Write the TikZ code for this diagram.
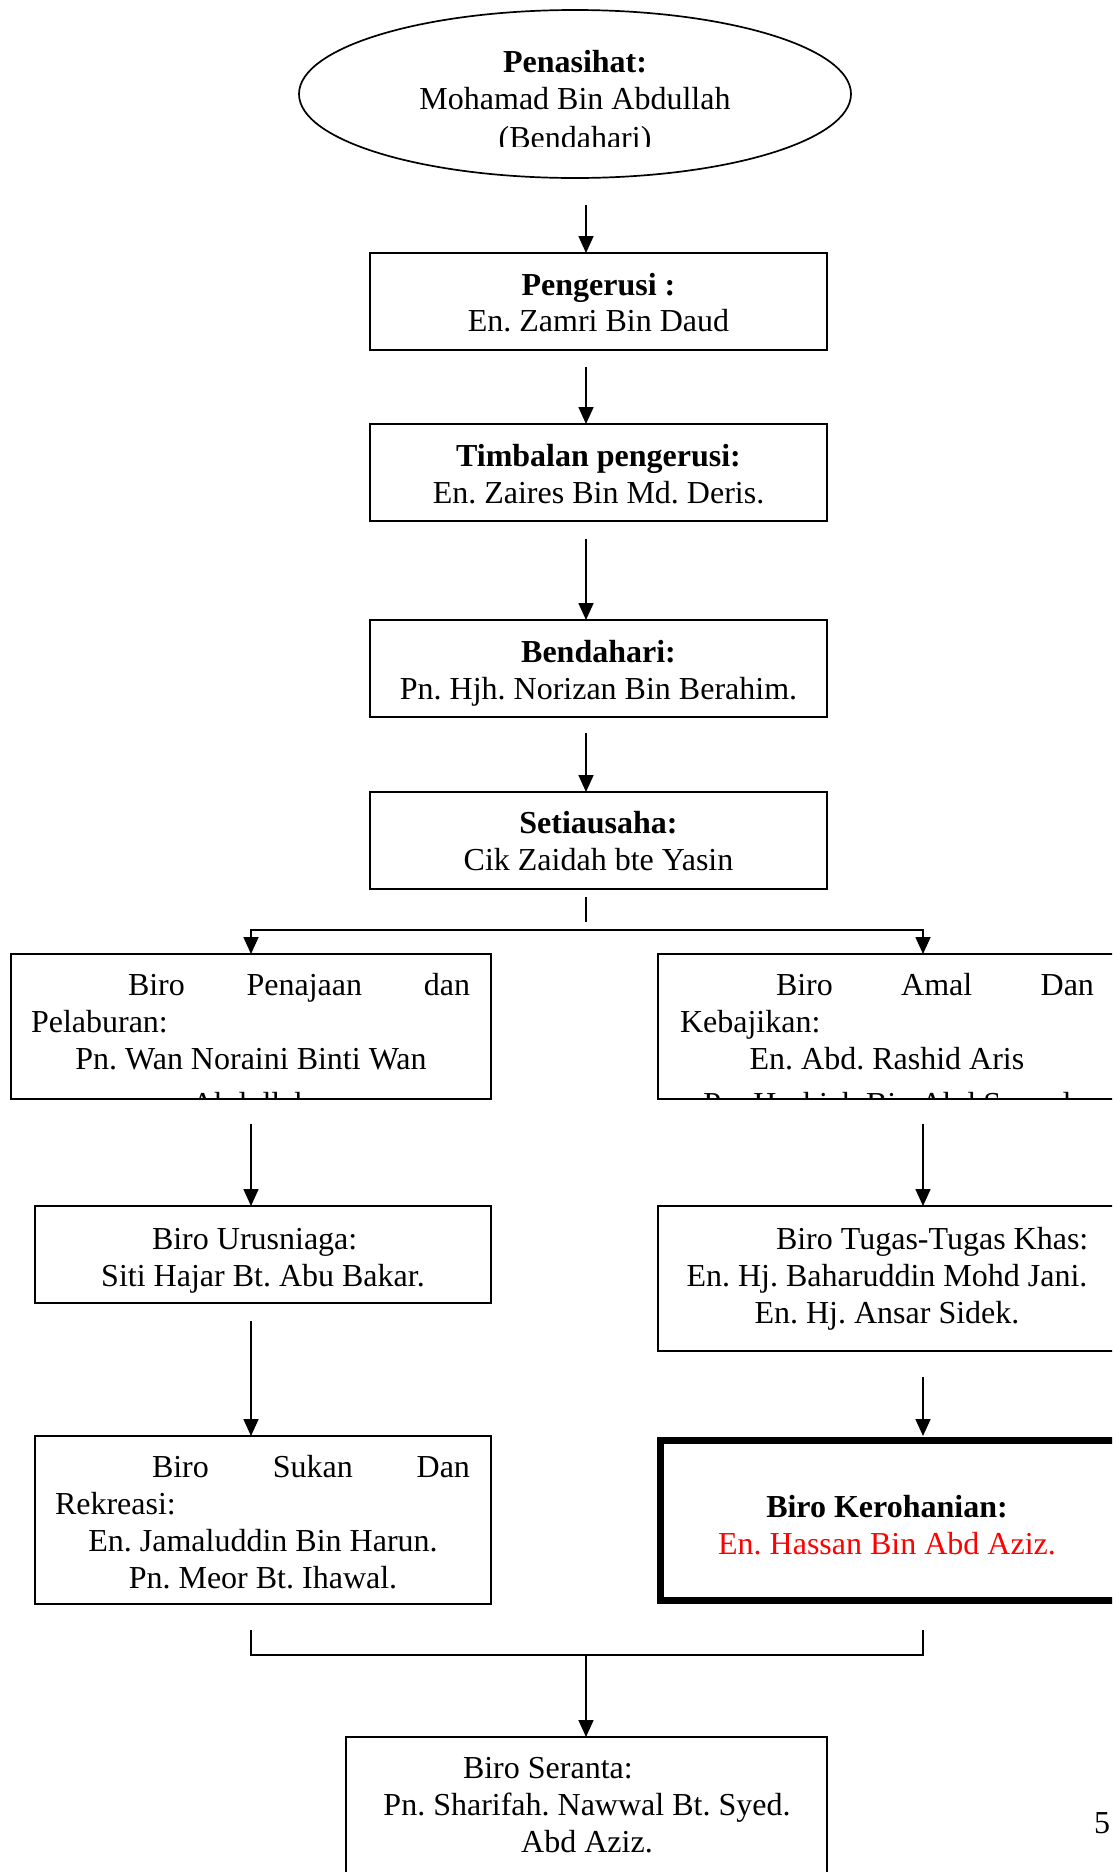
\documentclass[tikz,border=0pt]{standalone}
\usepackage{fontspec}
\setmainfont{Liberation Serif}
\usetikzlibrary{arrows.meta,shapes.geometric}
\frenchspacing
\begin{document}
\begin{tikzpicture}[x=1pt,y=-1pt,
  box/.style={draw,line width=1.7pt,rectangle,inner sep=0pt,outer sep=0pt},
  thickbox/.style={draw,line width=7pt,rectangle,inner sep=0pt,outer sep=0pt},
  txt/.style={inner sep=0pt,outer sep=0pt,anchor=base,font=\fontsize{32}{37}\selectfont\frenchspacing},
  txtl/.style={txt,anchor=base west},
  bt/.style={txt,font=\fontsize{32}{37}\selectfont\bfseries\frenchspacing},
  arr/.style={line width=1.7pt,-{Triangle[width=15pt,length=17pt]}},
  ln/.style={line width=1.7pt}]
\useasboundingbox (0,0) rectangle (1112,1872);
\clip (0,0) rectangle (1112,1872);

% ---------- shapes ----------
\node[draw,ellipse,line width=1.7pt,inner sep=0pt,outer sep=0pt,
      minimum width=552pt,minimum height=168pt] (ell) at (575,94) {};
\node[box,minimum width=457pt,minimum height=97pt] (peng) at (598.5,301.5) {};
\node[box,minimum width=457pt,minimum height=97pt] (timb) at (598.5,472.5) {};
\node[box,minimum width=457pt,minimum height=97pt] (bend) at (598.5,668.5) {};
\node[box,minimum width=457pt,minimum height=97pt] (seti) at (598.5,840.5) {};
\node[box,minimum width=480pt,minimum height=145pt] (penaj) at (251,1026.5) {};
\node[box,minimum width=462pt,minimum height=145pt] (amal) at (889,1026.5) {};
\node[box,minimum width=456pt,minimum height=97pt] (urus) at (263,1254.5) {};
\node[box,minimum width=462pt,minimum height=145pt] (tugas) at (889,1278.5) {};
\node[box,minimum width=456pt,minimum height=168pt] (sukan) at (263,1520) {};
\node[thickbox,minimum width=460pt,minimum height=160pt] (keroh) at (890,1520) {};
\node[box,minimum width=481pt,minimum height=153pt] (seranta) at (586.5,1813.5) {};

% ---------- texts ----------
\begin{scope}
\clip (300,10) rectangle (852,146);
\node[bt] (e1) at (575,72) {Penasihat:};
\node[txt] (e2) at (575,109) {Mohamad Bin Abdullah};
\node[txt] (e3) at (575,148) {(Bendahari)};
\end{scope}

\node[bt] (p1) at (598.5,295) {Pengerusi :};
\node[txt] (p2) at (598.5,331) {En. Zamri Bin Daud};

\node[bt] (tb1) at (598.5,466) {Timbalan pengerusi:};
\node[txt] (tb2) at (598.5,503) {En. Zaires Bin Md. Deris.};

\node[bt] (bd1) at (598.5,662) {Bendahari:};
\node[txt] (bd2) at (598.5,699) {Pn. Hjh. Norizan Bin Berahim.};

\node[bt] (st1) at (598.5,833) {Setiausaha:};
\node[txt] (st2) at (598.5,870) {Cik Zaidah bte Yasin};

\begin{scope}
\clip (12,955) rectangle (490,1097);
\node[txtl] (pj1) at (128,995) {\hbox to 342pt{Biro\hfill Penajaan\hfill dan}};
\node[txtl] (pj2) at (31,1032) {Pelaburan:};
\node[txt] (pj3) at (251,1069) {Pn. Wan Noraini Binti Wan};
\node[txt] (pj4) at (251,1114) {Abdullah};
\end{scope}

\begin{scope}
\clip (659,955) rectangle (1112,1097);
\node[txtl] (am1) at (776,995) {\hbox to 318pt{Biro\hfill Amal\hfill Dan}};
\node[txtl] (am2) at (680,1032) {Kebajikan:};
\node[txt] (am3) at (887,1069) {En. Abd. Rashid Aris};
\node[txt] (am4) at (887,1114) {Pn. Hashiah Bin Abd Samad};
\end{scope}

\node[txtl] (ur1) at (152,1249) {Biro Urusniaga:};
\node[txt] (ur2) at (263,1286) {Siti Hajar Bt. Abu Bakar.};

\node[txtl] (tg1) at (776,1249) {Biro Tugas-Tugas Khas:};
\node[txt] (tg2) at (887,1286) {En. Hj. Baharuddin Mohd Jani.};
\node[txt] (tg3) at (887,1323) {En. Hj. Ansar Sidek.};

\node[txtl] (sk1) at (152,1477) {\hbox to 318pt{Biro\hfill Sukan\hfill Dan}};
\node[txtl] (sk2) at (55,1514) {Rekreasi:};
\node[txt] (sk3) at (263,1551) {En. Jamaluddin Bin Harun.};
\node[txt] (sk4) at (263,1588) {Pn. Meor Bt. Ihawal.};

\node[bt] (kr1) at (887,1517) {Biro Kerohanian:};
\node[txt,text=red] (kr2) at (887,1554) {En. Hassan Bin Abd Aziz.};

\node[txtl] (sr1) at (463,1778) {Biro Seranta:};
\node[txt] (sr2) at (587,1815) {Pn. Sharifah. Nawwal Bt. Syed.};
\node[txt] (sr3) at (587,1852) {Abd Aziz.};

\node[txtl] (pg) at (1094,1833) {5};

% ---------- connectors ----------
\coordinate (s1) at (586,205);
\draw[arr] (s1) -- (s1 |- peng.north);
\coordinate (s2) at (586,367);
\draw[arr] (s2) -- (s2 |- timb.north);
\coordinate (s3) at (586,539);
\draw[arr] (s3) -- (s3 |- bend.north);
\coordinate (s4) at (586,733);
\draw[arr] (s4) -- (s4 |- seti.north);

\coordinate (t1) at (586,897);
\coordinate (t2) at (586,922);
\draw[ln] (t1) -- (t2);
\coordinate (hm) at (586,930);
\coordinate (hl) at (251,930);
\coordinate (hr) at (923,930);
\draw[arr] (hm) -- (hl) -- (hl |- penaj.north);
\draw[arr] (hm) -- (hr) -- (hr |- amal.north);

\coordinate (s5) at (251,1124);
\draw[arr] (s5) -- (s5 |- urus.north);
\coordinate (s6) at (923,1124);
\draw[arr] (s6) -- (s6 |- tugas.north);
\coordinate (s7) at (251,1321);
\draw[arr] (s7) -- (s7 |- sukan.north);
\coordinate (s8) at (923,1377);
\coordinate (s8e) at (923,1436);
\draw[arr] (s8) -- (s8e);

\coordinate (b1) at (251,1630);
\coordinate (b2) at (923,1630);
\coordinate (bm) at (586,1655);
\draw[ln] (b1) -- (b1 |- bm) -- (b2 |- bm) -- (b2);
\draw[arr] (bm) -- (bm |- seranta.north);
\end{tikzpicture}
\end{document}
